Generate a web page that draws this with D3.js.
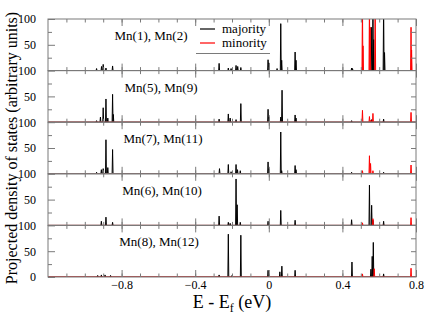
<!DOCTYPE html>
<html>
<head>
<meta charset="utf-8">
<script src="https://cdn.jsdelivr.net/npm/d3@7"></script>
<style>
  body { margin: 0; background: #fff; }
  svg text { font-family: "Liberation Serif", "Times New Roman", "DejaVu Serif", serif; }
</style>
</head>
<body>
<div id="chart"></div>
<script>
// panels, top to bottom
var panelLabels = ["Mn(1), Mn(2)", "Mn(5), Mn(9)", "Mn(7), Mn(11)", "Mn(6), Mn(10)", "Mn(8), Mn(12)"];
var seriesNames = ["majority", "minority"];
var energyTicks = [-0.8, -0.4, 0, 0.4, 0.8];
var dosTicks = [0, 50, 100];

// peaks as [E - Ef (eV), height]
var majority = [
  [[-0.936,4],[-0.909,8],[-0.9,12],[-0.885,5],[-0.849,9],[-0.27,14],[-0.22,5],[-0.205,4],[-0.178,10],[-0.169,8],[-0.152,6],
   [-0.004,21],[0.0,15],[0.045,4],[0.065,91],[0.07,20],[0.143,36],[0.148,20],[0.45,5],[0.455,4],
   [0.557,84],[0.566,130],[0.57,60],[0.624,130],[0.629,35]],
  [[-0.936,3],[-0.915,10],[-0.9,28],[-0.885,45],[-0.875,8],[-0.849,54],[-0.845,15],[-0.27,6],[-0.22,16],[-0.21,8],[-0.178,5],
   [-0.152,36],[-0.004,25],[0.0,10],[0.065,10],[0.072,62],[0.143,14],[0.148,8],[0.45,3],[0.559,5],[0.624,6]],
  [[-0.936,3],[-0.91,8],[-0.9,10],[-0.885,66],[-0.875,12],[-0.849,47],[-0.268,10],[-0.22,18],[-0.205,4],[-0.178,18],[-0.17,8],
   [-0.155,6],[-0.004,23],[0.0,10],[0.065,81],[0.07,6],[0.143,16],[0.148,8],[0.45,3],[0.624,3]],
  [[-0.91,8],[-0.885,16],[-0.849,6],[-0.27,18],[-0.22,6],[-0.21,4],[-0.178,90],[-0.172,40],[-0.155,6],[-0.004,8],
   [0.065,29],[0.143,10],[0.45,11],[0.547,78],[0.559,39],[0.566,10],[0.624,8]],
  [[-0.93,3],[-0.91,4],[-0.89,4],[-0.86,3],[-0.27,4],[-0.22,83],[-0.2,3],[-0.152,81],[-0.004,13],[0.06,10],[0.071,21],
   [0.143,13],[0.452,29],[0.555,15],[0.562,40],[0.568,67],[0.624,6]]
];
var minority = [
  [[0.509,130],[0.512,48],[0.547,130],[0.551,84],[0.578,130],[0.773,84],[0.776,40]],
  [[0.509,23],[0.547,11],[0.555,4],[0.566,17],[0.773,19]],
  [[0.509,6],[0.547,35],[0.553,20],[0.566,6],[0.773,17]],
  [[0.509,5],[0.566,13],[0.773,15]],
  [[0.509,6],[0.573,16],[0.773,17]]
];

var width = 425, height = 327;
var mLeft = 48, mRight = 416, mTop = 19, mBottom = 277;
var ph = (mBottom - mTop) / panelLabels.length;
var labelX = [151, 161, 163, 162, 159];
var frameColor = "#7a7a7a";
var serif = "Liberation Serif, Times New Roman, DejaVu Serif, serif";

var x = d3.scaleLinear().domain([-1.2, 0.8]).range([mLeft, mRight]);
var y = d3.scaleLinear().domain([0, 100]).range([ph, 0]);

var svg = d3.select("#chart").append("svg")
  .attr("width", width)
  .attr("height", height)
  .attr("font-family", serif);

svg.append("defs").append("clipPath").attr("id", "clip")
  .append("rect").attr("x", mLeft).attr("y", 0).attr("width", mRight - mLeft).attr("height", ph);

// turn peak list into a spiky curve along the baseline
function spikes(peaks) {
  var w = 0.0025, pts = [[-1.2, 0]];
  peaks.slice().sort(function(a, b) { return a[0] - b[0]; }).forEach(function(p) {
    pts.push([p[0] - w, 0], [p[0], p[1]], [p[0] + w, 0]);
  });
  pts.push([0.8, 0]);
  return pts;
}
var line = d3.line().x(function(d) { return x(d[0]); }).y(function(d) { return y(d[1]); });

var minorX = d3.range(-11, 8).map(function(i) { return i / 10; });

panelLabels.forEach(function(label, i) {
  var g = svg.append("g").attr("transform", "translate(0," + (mTop + i * ph) + ")");

  var plot = g.append("g").attr("clip-path", "url(#clip)");
  plot.append("path").datum(spikes(majority[i]))
    .attr("d", line).attr("fill", "none").attr("stroke", "#000").attr("stroke-width", 1);
  plot.append("path").datum(spikes(minority[i]))
    .attr("d", line).attr("fill", "none").attr("stroke", "#f00").attr("stroke-width", 1);

  // frame
  g.append("rect").attr("x", mLeft).attr("y", 0).attr("width", mRight - mLeft).attr("height", ph)
    .attr("fill", "none").attr("stroke", frameColor);

  // x ticks, inward on top and bottom
  var isLast = i === panelLabels.length - 1;
  [["bottom", ph, d3.axisBottom], ["top", 0, d3.axisTop]].forEach(function(s) {
    g.append("g").attr("transform", "translate(0," + s[1] + ")")
      .call(s[2](x).tickValues(minorX).tickSize(-3.5).tickFormat(""));
    g.append("g").attr("class", "xmaj").attr("transform", "translate(0," + s[1] + ")")
      .call(s[2](x).tickValues(energyTicks).tickSize(-7).tickPadding(8.5)
        .tickFormat(isLast && s[0] === "bottom" ? d3.format("") : ""));
  });

  // y ticks
  var yl = dosTicks.filter(function(v) { return v > 0 || isLast; });
  g.append("g").attr("transform", "translate(" + mLeft + ",0)")
    .call(d3.axisLeft(y).tickValues([25, 75]).tickSize(-4).tickFormat(""));
  g.append("g").attr("class", "ylab").attr("transform", "translate(" + mLeft + ",0)")
    .call(d3.axisLeft(y).tickValues(yl).tickSize(-7).tickPadding(12));
  g.append("g").attr("transform", "translate(" + mRight + ",0)")
    .call(d3.axisRight(y).tickValues([25, 50, 75]).tickSize(-5).tickFormat(""));

  g.append("text").attr("x", labelX[i]).attr("y", 21)
    .attr("text-anchor", "middle").attr("font-size", 13).text(label);
});

svg.selectAll(".domain").remove();
svg.selectAll("g").filter(function() { return this.hasAttribute("font-family"); })
  .attr("font-family", serif);
svg.selectAll(".tick line").attr("stroke", frameColor);
svg.selectAll(".tick text").attr("fill", "#000").attr("font-size", 12);
svg.selectAll(".xmaj .tick text").attr("dy", "0.3em");

// legend
var leg = svg.append("g");
seriesNames.forEach(function(n, i) {
  leg.append("line").attr("x1", 200).attr("x2", 215)
    .attr("y1", 29 + i * 14).attr("y2", 29 + i * 14)
    .attr("stroke", i ? "#f66" : "#000").attr("stroke-width", i ? 2 : 1.2);
  leg.append("text").attr("x", 222).attr("y", 33 + i * 14).attr("font-size", 13).text(n);
});
leg.append("line").attr("x1", 196).attr("x2", 270).attr("y1", 53.5).attr("y2", 53.5)
  .attr("stroke", frameColor);

// axis titles
var xt = svg.append("text").attr("x", (mLeft + mRight) / 2).attr("y", 308)
  .attr("text-anchor", "middle").attr("font-size", 18);
xt.append("tspan").text("E - E");
xt.append("tspan").attr("font-size", 12).attr("dy", 4).text("f");
xt.append("tspan").attr("dy", -4).text(" (eV)");

svg.append("text").attr("transform", "translate(17," + (mTop + mBottom) / 2 + ") rotate(-90)")
  .attr("text-anchor", "middle").attr("font-size", 16)
  .text("Projected density of states (arbitrary units)");
</script>
</body>
</html>
